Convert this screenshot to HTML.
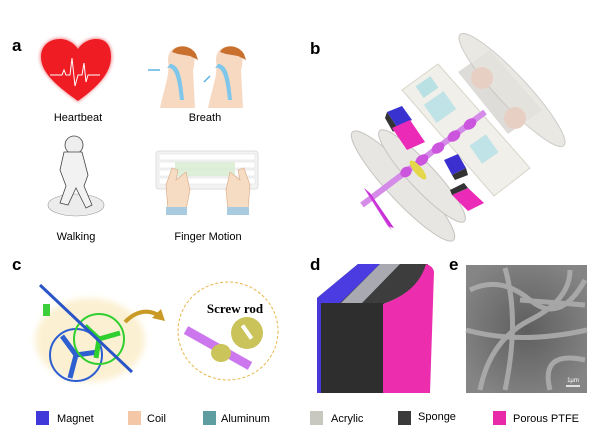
<!DOCTYPE html>
<html><head><meta charset="utf-8"><style>
html,body{margin:0;padding:0;background:#fff;width:600px;height:432px;overflow:hidden}
svg{display:block}
text{font-family:"Liberation Sans",Arial,sans-serif}
</style></head><body>
<svg width="600" height="432" viewBox="0 0 600 432" xmlns="http://www.w3.org/2000/svg">
<defs>
<filter id="bl" x="-20%" y="-20%" width="140%" height="140%"><feGaussianBlur stdDeviation="3"/></filter>
<filter id="bl2"><feGaussianBlur stdDeviation="1.5"/></filter>
<radialGradient id="sem" cx="50%" cy="50%" r="60%"><stop offset="0" stop-color="#5e5e5e"/><stop offset="1" stop-color="#858585"/></radialGradient>
</defs>
<text x="12" y="51" font-size="17" font-weight="bold">a</text>
<text x="310" y="54" font-size="17" font-weight="bold">b</text>
<text x="12" y="270" font-size="17" font-weight="bold">c</text>
<text x="310" y="270" font-size="17" font-weight="bold">d</text>
<text x="449" y="270" font-size="17" font-weight="bold">e</text>

<path d="M78 102 C60 88 40 74 40 57 C40 45 50 38 60 38 C68 38 75 43 78 48 C81 43 88 38 96 38 C106 38 112 45 112 57 C112 74 96 88 78 102 Z" fill="#e3141b" filter="url(#bl2)" opacity="0.5"/>
<path d="M78 101 C60 88 41 74 41 57 C41 45 50 39 60 39 C68 39 75 44 78 49 C81 44 88 39 96 39 C106 39 111 45 111 57 C111 74 96 88 78 101 Z" fill="#ef1c24"/>
<polyline points="50,75 62,75 64,70 66,75 70,75 72,58 75,86 78,75 82,75 84,63 86,82 88,75 100,75" fill="none" stroke="#fff" stroke-width="1"/>
<text x="78" y="121" font-size="11" text-anchor="middle">Heartbeat</text>

<g>
<path d="M160 108 C165 85 170 75 168 60 C168 50 175 45 185 47 C195 50 196 62 193 70 L195 108 Z" fill="#f7d9c2"/>
<path d="M172 52 C176 44 190 44 196 54 L198 60 L190 56 L178 54 Z" fill="#c9702e"/>
<path d="M167 68 C175 66 178 80 180 100 L184 100 C182 80 180 64 170 64 Z" fill="#7ec6ea"/>
<path d="M208 108 C213 85 218 75 216 60 C216 50 223 45 233 47 C243 50 244 62 241 70 L243 108 Z" fill="#f7d9c2"/>
<path d="M220 52 C224 44 238 44 244 54 L246 60 L238 56 L226 54 Z" fill="#c9702e"/>
<path d="M215 68 C223 66 226 80 228 100 L232 100 C230 80 228 64 218 64 Z" fill="#7ec6ea"/>
<path d="M148 70 L160 70" stroke="#5ab3e3" stroke-width="1.5"/>
<path d="M210 76 L204 82" stroke="#5ab3e3" stroke-width="1.5"/>
</g>
<text x="205" y="121" font-size="11" text-anchor="middle">Breath</text>

<ellipse cx="76" cy="205" rx="28" ry="11" fill="#ececec" stroke="#999" stroke-width="0.6"/>
<circle cx="74" cy="145" r="9" fill="#eee" stroke="#444" stroke-width="0.8"/>
<path d="M64 152 L82 152 L88 175 L84 186 L92 205 L86 208 L76 188 L68 205 L60 203 L66 186 L60 170 Z" fill="#f2f2f2" stroke="#444" stroke-width="0.8"/>
<text x="76" y="240" font-size="11" text-anchor="middle">Walking</text>

<rect x="156" y="151" width="102" height="38" rx="3" fill="#f3f3f3" stroke="#ddd"/>
<g fill="#fff" stroke="#ddd" stroke-width="0.5">
<rect x="159" y="154" width="96" height="6"/><rect x="159" y="162" width="96" height="6"/><rect x="159" y="170" width="96" height="6"/><rect x="159" y="178" width="96" height="6"/>
</g>
<rect x="175" y="162" width="60" height="14" fill="#d6ecd0" opacity="0.8"/>
<path d="M168 210 L166 185 L172 168 L178 170 L176 180 L186 172 L190 190 L186 210 Z" fill="#f6dcc3" stroke="#d9a77f" stroke-width="0.6"/>
<path d="M228 210 L226 190 L230 172 L240 180 L238 170 L244 168 L250 185 L248 210 Z" fill="#f6dcc3" stroke="#d9a77f" stroke-width="0.6"/>
<rect x="166" y="207" width="21" height="8" fill="#a8cbe0"/>
<rect x="227" y="207" width="22" height="8" fill="#a8cbe0"/>
<text x="208" y="240" font-size="11" text-anchor="middle">Finger Motion</text>

<g>
<ellipse cx="403" cy="186" rx="15" ry="74" transform="rotate(-43 403 186)" fill="#e8e6e2" stroke="#c7c5c0"/>
<ellipse cx="422" cy="176" rx="13" ry="62" transform="rotate(-43 422 176)" fill="#e9e7e3" stroke="#c7c5c0"/>
<polygon points="402,90 438,64 530,168 494,196" fill="#f1efe9" stroke="#d8d4c8"/>
<rect x="418" y="80" width="18" height="14" fill="#b9e1e4" transform="rotate(-35 427 87)"/>
<rect x="428" y="96" width="24" height="22" fill="#bfe3e6" transform="rotate(-35 440 107)"/>
<rect x="474" y="138" width="20" height="22" fill="#bfe3e6" transform="rotate(-35 484 149)"/>
<polygon points="458,72 490,50 542,110 508,134" fill="#dedcd8"/>
<ellipse cx="512" cy="90" rx="15" ry="76" transform="rotate(-43 512 90)" fill="#e6e4df" stroke="#c7c5c0" opacity="0.85"/>
<circle cx="482" cy="78" r="11" fill="#e8cfc4"/>
<circle cx="515" cy="118" r="11" fill="#e8cfc4"/>
<path d="M362 205 L485 112" stroke="#d58be8" stroke-width="6"/>
<g fill="#cc55dd"><ellipse cx="422" cy="160" rx="7" ry="5" transform="rotate(-37 422 160)"/><ellipse cx="438" cy="148" rx="7" ry="5" transform="rotate(-37 438 148)"/><ellipse cx="454" cy="136" rx="7" ry="5" transform="rotate(-37 454 136)"/><ellipse cx="470" cy="124" rx="7" ry="5" transform="rotate(-37 470 124)"/><ellipse cx="406" cy="172" rx="6" ry="5" transform="rotate(-37 406 172)"/></g>
<polygon points="364,188 370,193 394,228 388,226" fill="#c62fd4"/>
<polygon points="364,188 388,226 392,230 368,192" fill="#d13ee0"/>
<polygon points="387,112 402,106 412,120 397,127" fill="#3a32d0"/>
<polygon points="387,112 397,127 393,132 385,118" fill="#333"/>
<polygon points="392,128 410,120 425,142 407,150" fill="#ec2ab8"/>
<polygon points="444,160 458,154 466,168 452,175" fill="#3b30cf"/>
<polygon points="452,175 466,168 468,175 455,180" fill="#333"/>
<polygon points="452,195 468,188 484,203 468,211" fill="#ec2ab8"/>
<polygon points="452,195 468,188 464,183 450,190" fill="#333"/>
<ellipse cx="418" cy="170" rx="4" ry="12" transform="rotate(-40 418 170)" fill="#e4d84a"/>
</g>

<ellipse cx="90" cy="340" rx="55" ry="42" fill="#fbedc8" opacity="0.8" filter="url(#bl)"/>
<circle cx="76" cy="355" r="26" fill="none" stroke="#2e5fd0" stroke-width="2"/>
<path d="M76 355 L62 336 M76 355 L98 352 M76 355 L70 378" stroke="#2e5fd0" stroke-width="5"/>
<circle cx="99" cy="339" r="25" fill="none" stroke="#2fcf2f" stroke-width="2"/>
<path d="M99 339 L85 326 M99 339 L120 333 M99 339 L96 358" stroke="#2fcf2f" stroke-width="5"/>
<path d="M40 285 L132 372" stroke="#2a55c8" stroke-width="3"/>
<rect x="43" y="304" width="7" height="12" fill="#3ccf3c"/>
<path d="M125 322 Q142 305 160 316" fill="none" stroke="#c99a25" stroke-width="4"/>
<polygon points="165,321 152,318 161,309" fill="#c99a25"/>
<ellipse cx="228" cy="331" rx="50" ry="49" fill="#fff" stroke="#e8b64a" stroke-width="1" stroke-dasharray="3,2"/>
<text x="235" y="313" font-size="13" font-weight="bold" text-anchor="middle" style="font-family:'Liberation Serif',serif">Screw rod</text>
<path d="M186 330 L250 366" stroke="#cc77ee" stroke-width="9"/>
<ellipse cx="221" cy="353" rx="10" ry="9" fill="#cbc45a"/>
<circle cx="247" cy="333" r="16" fill="#c9c35a"/>
<rect x="245" y="324" width="4" height="16" fill="#fff" transform="rotate(-35 247 332)"/>

<path d="M317 298 L358 264 L428 264 Q418 292 383 304 L320 304 Z" fill="#3d3d3d"/>
<polygon points="317,298 358,264 380,264 340,303 320,303" fill="#4a3ce0"/>
<polygon points="341,303 380,264 400,264 362,303" fill="#a9a9b2"/>
<rect x="320" y="303" width="64" height="90" fill="#2e2e2e"/>
<rect x="317" y="298" width="4" height="95" fill="#4a37d8"/>
<path d="M383 304 Q418 292 426 264 Q433 266 434 272 L430 393 L383 393 Z" fill="#ec2dae"/>

<rect x="466" y="265" width="121" height="128" fill="url(#sem)"/>
<g fill="none" stroke="#b0b0b0" stroke-width="5" opacity="0.85">
<path d="M470 290 Q500 275 530 300 T585 280"/><path d="M480 390 Q490 340 530 320 T570 270"/><path d="M466 330 Q520 345 587 330"/><path d="M505 268 Q520 320 505 390"/><path d="M550 390 Q540 350 585 360"/><path d="M520 300 L585 305"/>
</g>
<path d="M566 386 L580 386" stroke="#fff" stroke-width="1.5"/>
<text x="573" y="382" font-size="6" fill="#fff" text-anchor="middle">1μm</text>

<g font-size="11">
<rect x="36" y="411" width="13" height="14" fill="#4038d8"/><text x="57" y="422">Magnet</text>
<rect x="128" y="411" width="13" height="14" fill="#f4c8a6"/><text x="147" y="422">Coil</text>
<rect x="203" y="411" width="13" height="14" fill="#5f9ea0"/><text x="221" y="422">Aluminum</text>
<rect x="310" y="411" width="13" height="14" fill="#c8c7c0"/><text x="331" y="422">Acrylic</text>
<rect x="398" y="411" width="13" height="14" fill="#3a3a3a"/><text x="418" y="420">Sponge</text>
<rect x="493" y="411" width="13" height="14" fill="#e82aa8"/><text x="513" y="422">Porous PTFE</text>
</g>
</svg>
</body></html>
